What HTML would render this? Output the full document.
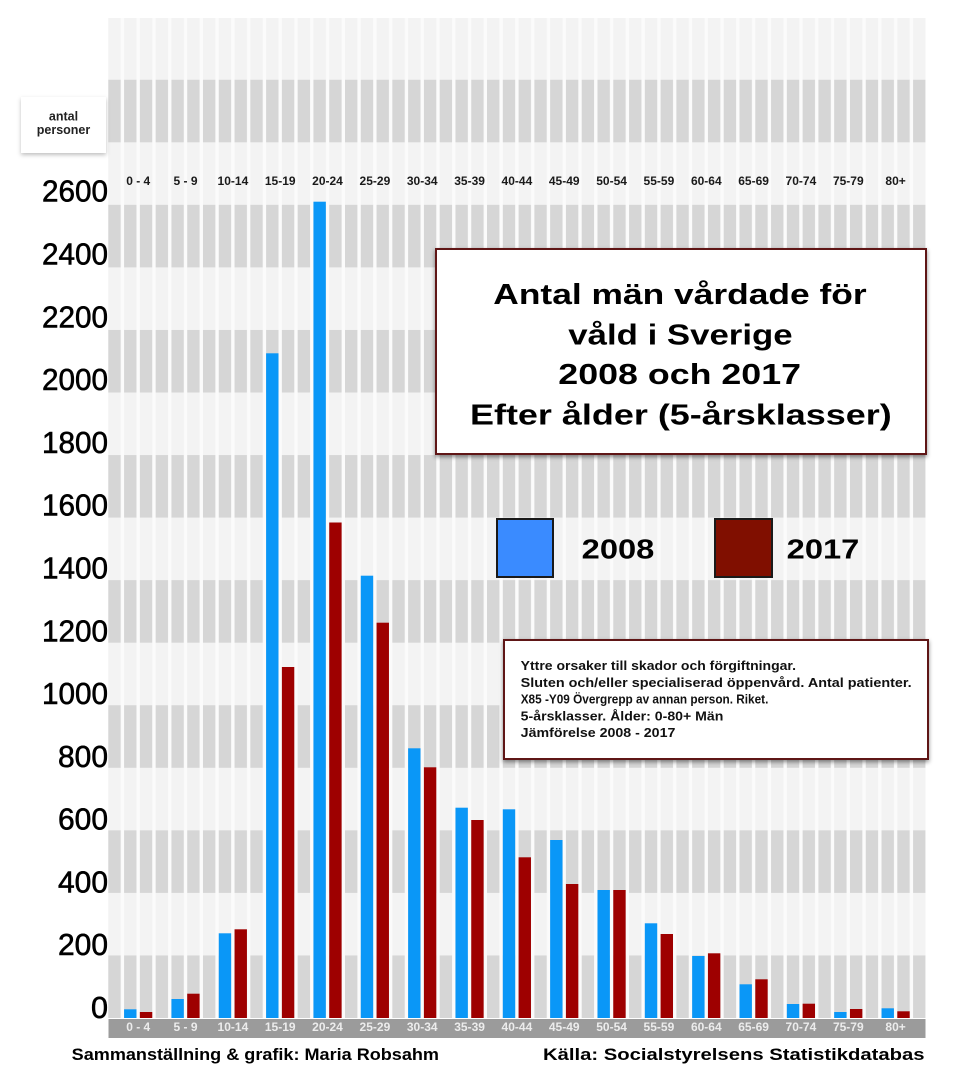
<!DOCTYPE html>
<html>
<head>
<meta charset="utf-8">
<style>
html,body{margin:0;padding:0;background:#fff;}
svg{display:block;}
text{font-family:"Liberation Sans",Arial,sans-serif;}
</style>
</head>
<body>
<svg width="960" height="1075" viewBox="0 0 960 1075" xmlns="http://www.w3.org/2000/svg">
<defs>
<pattern id="gaps" patternUnits="userSpaceOnUse" x="108.3" y="0" width="15.78" height="1075">
<rect x="12.4" y="0" width="3.38" height="1075" fill="#fbfbfb"/>
</pattern>
<filter id="sh" x="-5%" y="-5%" width="110%" height="115%">
<feDropShadow dx="0" dy="2" stdDeviation="2" flood-color="#000" flood-opacity="0.45"/>
</filter>
<filter id="sh2" x="-10%" y="-10%" width="120%" height="130%">
<feDropShadow dx="0" dy="2" stdDeviation="2" flood-color="#000" flood-opacity="0.25"/>
</filter>
</defs>
<rect width="960" height="1075" fill="#fff"/>

<!-- bands -->
<g>
<rect x="108" y="18" width="818" height="1000" fill="#f3f3f3"/>
<rect x="108" y="955.45" width="818" height="62.55" fill="#d6d6d6"/>
<rect x="108" y="830.35" width="818" height="62.55" fill="#d6d6d6"/>
<rect x="108" y="705.25" width="818" height="62.55" fill="#d6d6d6"/>
<rect x="108" y="580.15" width="818" height="62.55" fill="#d6d6d6"/>
<rect x="108" y="455.05" width="818" height="62.55" fill="#d6d6d6"/>
<rect x="108" y="329.95" width="818" height="62.55" fill="#d6d6d6"/>
<rect x="108" y="204.85" width="818" height="62.55" fill="#d6d6d6"/>
<rect x="108" y="79.75" width="818" height="62.55" fill="#d6d6d6"/>
<rect x="108" y="18" width="818" height="1000" fill="url(#gaps)"/>
<rect x="925.6" y="18" width="4" height="1000" fill="#fff"/>
</g>

<!-- top category labels -->
<g font-size="12" font-weight="bold" fill="#1a1a1a" text-anchor="middle">
<text x="138.2" y="185">0 - 4</text>
<text x="185.5" y="185">5 - 9</text>
<text x="232.9" y="185">10-14</text>
<text x="280.2" y="185">15-19</text>
<text x="327.5" y="185">20-24</text>
<text x="374.9" y="185">25-29</text>
<text x="422.2" y="185">30-34</text>
<text x="469.6" y="185">35-39</text>
<text x="516.9" y="185">40-44</text>
<text x="564.2" y="185">45-49</text>
<text x="611.6" y="185">50-54</text>
<text x="658.9" y="185">55-59</text>
<text x="706.3" y="185">60-64</text>
<text x="753.6" y="185">65-69</text>
<text x="800.9" y="185">70-74</text>
<text x="848.3" y="185">75-79</text>
<text x="895.6" y="185">80+</text>
</g>

<!-- bars 2008 -->
<g fill="#0a97f7">
<rect x="124.08" y="1009.3" width="12.4" height="8.7"/>
<rect x="171.42" y="999" width="12.4" height="19"/>
<rect x="218.76" y="933.3" width="12.4" height="84.7"/>
<rect x="266.1" y="353.3" width="12.4" height="664.7"/>
<rect x="313.44" y="201.7" width="12.4" height="816.3"/>
<rect x="360.78" y="575.7" width="12.4" height="442.3"/>
<rect x="408.12" y="748.3" width="12.4" height="269.7"/>
<rect x="455.46" y="807.7" width="12.4" height="210.3"/>
<rect x="502.8" y="809.3" width="12.4" height="208.7"/>
<rect x="550.14" y="840" width="12.4" height="178"/>
<rect x="597.48" y="890" width="12.4" height="128"/>
<rect x="644.82" y="923.3" width="12.4" height="94.7"/>
<rect x="692.16" y="956" width="12.4" height="62"/>
<rect x="739.5" y="984.3" width="12.4" height="33.7"/>
<rect x="786.84" y="1004" width="12.4" height="14"/>
<rect x="834.18" y="1012" width="12.4" height="6"/>
<rect x="881.52" y="1008.3" width="12.4" height="9.7"/>
</g>
<!-- bars 2017 -->
<g fill="#9e0000">
<rect x="139.86" y="1012" width="12.4" height="6"/>
<rect x="187.2" y="993.7" width="12.4" height="24.3"/>
<rect x="234.54" y="929.3" width="12.4" height="88.7"/>
<rect x="281.88" y="667" width="12.4" height="351"/>
<rect x="329.22" y="522.5" width="12.4" height="495.5"/>
<rect x="376.56" y="622.7" width="12.4" height="395.3"/>
<rect x="423.9" y="767.3" width="12.4" height="250.7"/>
<rect x="471.24" y="820" width="12.4" height="198"/>
<rect x="518.58" y="857.3" width="12.4" height="160.7"/>
<rect x="565.92" y="884" width="12.4" height="134"/>
<rect x="613.26" y="890" width="12.4" height="128"/>
<rect x="660.6" y="934" width="12.4" height="84"/>
<rect x="707.94" y="953.3" width="12.4" height="64.7"/>
<rect x="755.28" y="979.3" width="12.4" height="38.7"/>
<rect x="802.62" y="1003.7" width="12.4" height="14.3"/>
<rect x="849.96" y="1009" width="12.4" height="9"/>
<rect x="897.3" y="1011.3" width="12.4" height="6.7"/>
</g>

<!-- bottom axis bar -->
<rect x="108.5" y="1019" width="817" height="19" fill="#9b9b9b"/>
<g font-size="12" font-weight="bold" fill="#ececec" text-anchor="middle">
<text x="138.2" y="1031">0 - 4</text>
<text x="185.5" y="1031">5 - 9</text>
<text x="232.9" y="1031">10-14</text>
<text x="280.2" y="1031">15-19</text>
<text x="327.5" y="1031">20-24</text>
<text x="374.9" y="1031">25-29</text>
<text x="422.2" y="1031">30-34</text>
<text x="469.6" y="1031">35-39</text>
<text x="516.9" y="1031">40-44</text>
<text x="564.2" y="1031">45-49</text>
<text x="611.6" y="1031">50-54</text>
<text x="658.9" y="1031">55-59</text>
<text x="706.3" y="1031">60-64</text>
<text x="753.6" y="1031">65-69</text>
<text x="800.9" y="1031">70-74</text>
<text x="848.3" y="1031">75-79</text>
<text x="895.6" y="1031">80+</text>
</g>

<!-- y axis labels -->
<g font-size="31" fill="#000" stroke="#000" stroke-width="0.6" text-anchor="end">
<text x="108" y="1018" textLength="17" lengthAdjust="spacingAndGlyphs">0</text>
<text x="108" y="955.2" textLength="50" lengthAdjust="spacingAndGlyphs">200</text>
<text x="108" y="892.4" textLength="50" lengthAdjust="spacingAndGlyphs">400</text>
<text x="108" y="829.6" textLength="50" lengthAdjust="spacingAndGlyphs">600</text>
<text x="108" y="766.8" textLength="50" lengthAdjust="spacingAndGlyphs">800</text>
<text x="108" y="704.1" textLength="66" lengthAdjust="spacingAndGlyphs">1000</text>
<text x="108" y="641.3" textLength="66" lengthAdjust="spacingAndGlyphs">1200</text>
<text x="108" y="578.5" textLength="66" lengthAdjust="spacingAndGlyphs">1400</text>
<text x="108" y="515.7" textLength="66" lengthAdjust="spacingAndGlyphs">1600</text>
<text x="108" y="452.9" textLength="66" lengthAdjust="spacingAndGlyphs">1800</text>
<text x="108" y="390.1" textLength="66" lengthAdjust="spacingAndGlyphs">2000</text>
<text x="108" y="327.3" textLength="66" lengthAdjust="spacingAndGlyphs">2200</text>
<text x="108" y="264.5" textLength="66" lengthAdjust="spacingAndGlyphs">2400</text>
<text x="108" y="201.7" textLength="66" lengthAdjust="spacingAndGlyphs">2600</text>
</g>

<!-- antal personer box -->
<rect x="21" y="97" width="85" height="56" fill="#fff" filter="url(#sh2)"/>
<g font-size="12.5" font-weight="bold" fill="#222" text-anchor="middle">
<text x="63.5" y="120.5">antal</text>
<text x="63.5" y="134">personer</text>
</g>

<!-- title box -->
<rect x="436" y="249" width="490" height="205" fill="#fff" stroke="#5e1616" stroke-width="2" filter="url(#sh)"/>
<g font-size="29" font-weight="bold" fill="#000">
<text x="493.3" y="304" textLength="373.3" lengthAdjust="spacingAndGlyphs">Antal män vårdade för</text>
<text x="568.3" y="344.3" textLength="224.3" lengthAdjust="spacingAndGlyphs">våld i Sverige</text>
<text x="558.3" y="384" textLength="242.7" lengthAdjust="spacingAndGlyphs">2008 och 2017</text>
<text x="470" y="424.5" textLength="421.7" lengthAdjust="spacingAndGlyphs">Efter ålder (5-årsklasser)</text>
</g>

<!-- legend -->
<rect x="497" y="519" width="56" height="58" fill="#3a8bff" stroke="#1a1a1a" stroke-width="2"/>
<rect x="715" y="519" width="57" height="58" fill="#800f00" stroke="#1a1a1a" stroke-width="2"/>
<g font-size="28" font-weight="bold" fill="#000">
<text x="581.7" y="558.3" textLength="72.6" lengthAdjust="spacingAndGlyphs">2008</text>
<text x="786.7" y="558.3" textLength="72.6" lengthAdjust="spacingAndGlyphs">2017</text>
</g>

<!-- note box -->
<rect x="504" y="640" width="424" height="119" fill="#fff" stroke="#5e1616" stroke-width="2" filter="url(#sh)"/>
<g font-size="12.5" font-weight="bold" fill="#111">
<text x="520.7" y="670" textLength="275.3" lengthAdjust="spacingAndGlyphs">Yttre orsaker till skador och förgiftningar.</text>
<text x="520.7" y="686.8" textLength="391" lengthAdjust="spacingAndGlyphs">Sluten och/eller specialiserad öppenvård. Antal patienter.</text>
<text x="520.7" y="703.6" textLength="247.7" lengthAdjust="spacingAndGlyphs">X85 -Y09 Övergrepp av annan person. Riket.</text>
<text x="520.7" y="720.4" textLength="202.7" lengthAdjust="spacingAndGlyphs">5-årsklasser. Ålder: 0-80+ Män</text>
<text x="520.7" y="737.2" textLength="154.7" lengthAdjust="spacingAndGlyphs">Jämförelse 2008 - 2017</text>
</g>

<!-- footer -->
<g font-size="17" font-weight="bold" fill="#000">
<text x="71.7" y="1060" textLength="367.3" lengthAdjust="spacingAndGlyphs">Sammanställning &amp; grafik: Maria Robsahm</text>
<text x="543" y="1060" textLength="381.5" lengthAdjust="spacingAndGlyphs">Källa: Socialstyrelsens Statistikdatabas</text>
</g>
</svg>
</body>
</html>
